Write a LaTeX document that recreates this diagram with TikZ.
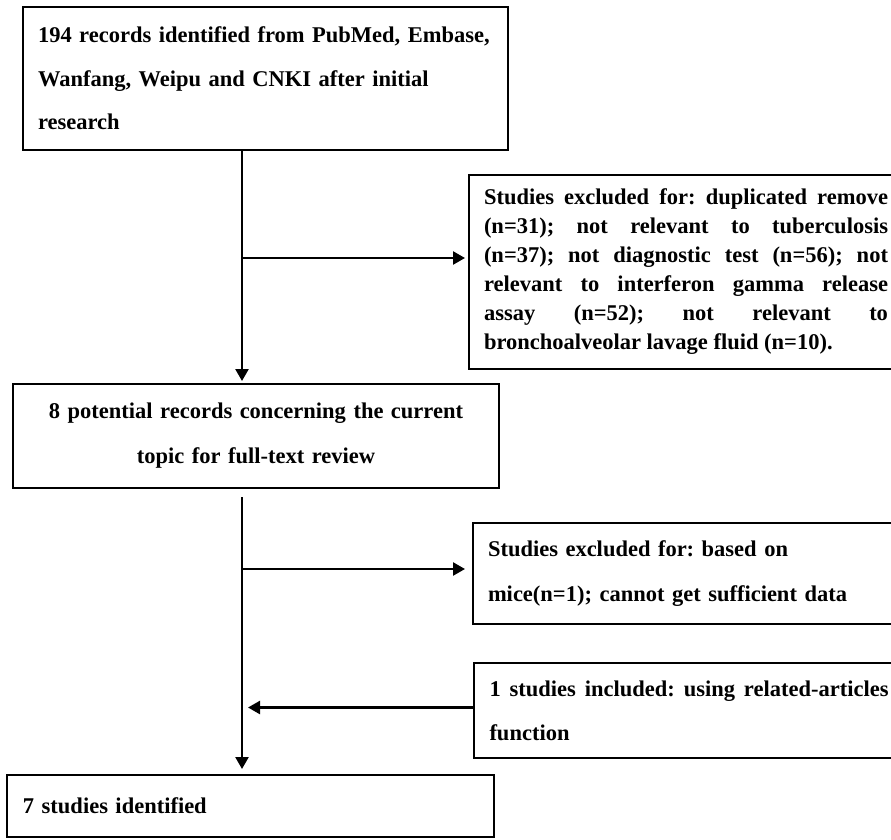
\documentclass[tikz,border=0pt]{standalone}
\usepackage{fontspec}
\setmainfont{Liberation Serif}
\usetikzlibrary{arrows.meta,calc}
\hbadness=10000
\frenchspacing
\begin{document}
\begin{tikzpicture}[x=1pt,y=1pt,
  box/.style={draw=black, line width=2.8pt, rectangle, anchor=north west,
    inner xsep=15pt, inner ysep=0pt, outer sep=0pt,
    font=\fontsize{22.5}{44}\selectfont\bfseries\frenchspacing},
  arr/.style={line width=2.4pt, -{Triangle[length=12pt,width=13pt]}}]
\useasboundingbox (0,0) rectangle (891,-839);
\clip (0,0) rectangle (891,-839);
\fill[white] (0,0) rectangle (891,-839);

\node[box, minimum width=485pt, minimum height=143pt, text width=455pt, align=left,
  font=\fontsize{22.5}{43.5}\selectfont\bfseries\frenchspacing] (b1) at (23,-7)
  {194 records identified from PubMed, Embase,\\Wanfang, Weipu and CNKI after initial\\research};

\node[box, minimum width=430pt, minimum height=194pt, text width=404pt, align=justify,
  font=\fontsize{22.5}{29}\selectfont\bfseries\frenchspacing] (b2) at (469,-175)
  {Studies excluded for: duplicated remove\linebreak (n=31); not relevant to tuberculosis\linebreak (n=37); not diagnostic test (n=56); not\linebreak relevant to interferon gamma release\linebreak assay (n=52); not relevant to\linebreak bronchoalveolar lavage fluid (n=10).};

\node[box, minimum width=486pt, minimum height=104pt, text width=456pt, align=center,
  font=\fontsize{22.5}{45}\selectfont\bfseries\frenchspacing] (b3) at (13,-384)
  {8 potential records concerning the current\\topic for full-text review};

\node[box, minimum width=430pt, minimum height=101pt, text width=404pt, align=left,
  font=\fontsize{22.5}{45}\selectfont\bfseries\frenchspacing] (b4) at (473,-523)
  {Studies excluded for: based on\\mice(n=1); cannot get sufficient data};

\node[box, minimum width=430pt, minimum height=95pt, text width=399pt, align=justify,
  font=\fontsize{22.5}{44}\selectfont\bfseries\frenchspacing] (b5) at (474,-663)
  {1 studies included: using related-articles\linebreak function};

\node[box, minimum width=487pt, minimum height=62pt, text width=455pt, align=left,
  inner xsep=16pt] (b6) at (7,-775)
  {7 studies identified};

\coordinate (sp) at (242,0);
\coordinate (j1) at (242,-258);
\coordinate (j2) at (242,-569);

\draw[arr, shorten >=3pt] (b1.south -| sp) -- (b3.north -| sp);
\draw[arr, shorten >=4pt] (j1) -- (j1 -| b2.west);
\draw[arr, shorten >=6pt] ($(b3.south -| sp)+(0,-9)$) -- (b6.north -| sp);
\draw[arr, shorten >=8pt] (j2) -- (j2 -| b4.west);
\draw[arr, shorten >=6pt] ($(b5.west)+(0,3)$) -- ($(b5.west -| sp)+(0,3)$);
\end{tikzpicture}
\end{document}
